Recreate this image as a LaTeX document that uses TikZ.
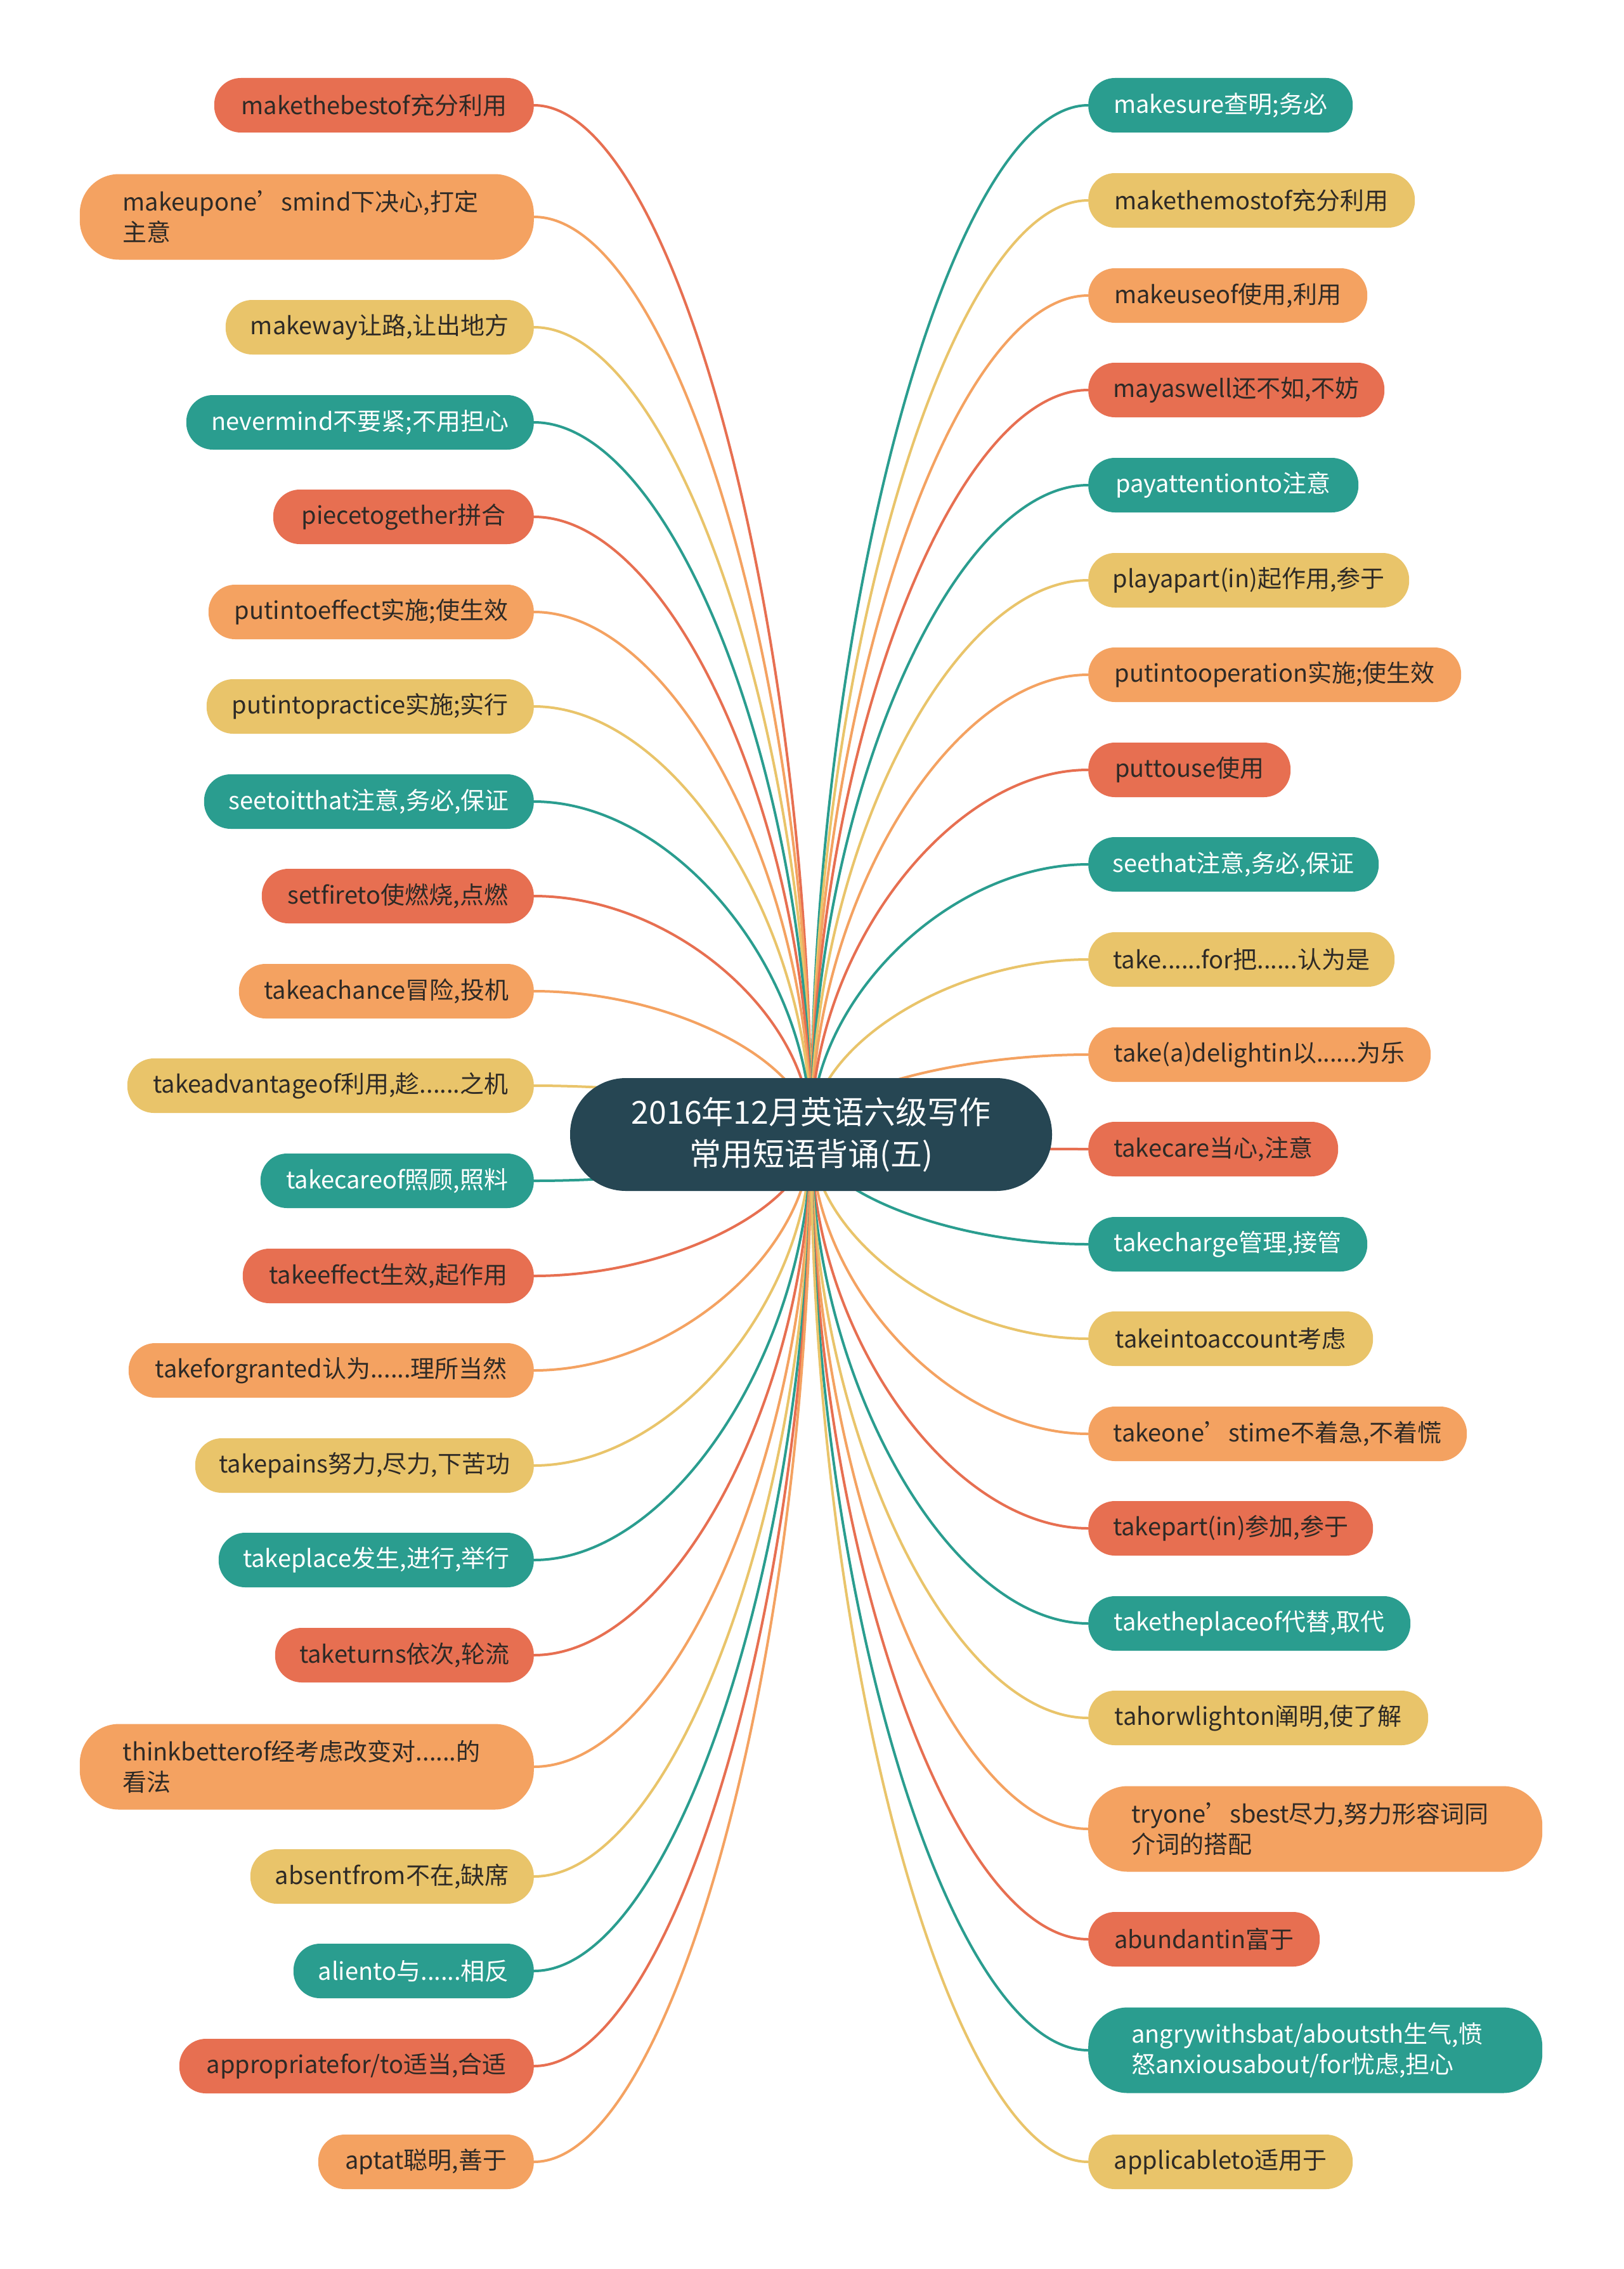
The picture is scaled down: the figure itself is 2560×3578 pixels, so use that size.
\documentclass[tikz,border=0pt]{standalone}
\usepackage{fontspec}
\setmainfont{Noto Sans CJK SC}
\usetikzlibrary{calc,backgrounds}
\definecolor{cRed}{HTML}{E76F51}
\definecolor{cOra}{HTML}{F4A261}
\definecolor{cYel}{HTML}{E9C46A}
\definecolor{cTea}{HTML}{2A9D8F}
\definecolor{cNav}{HTML}{264653}
\definecolor{cTxt}{HTML}{2E2A26}
\tikzset{
  leaf/.style={draw=none, rounded corners=42pt, minimum height=86pt, inner xsep=18pt, inner ysep=0pt,
    font=\fontsize{38}{48}\selectfont, text=cTxt},
  leafL/.style={leaf, anchor=east},
  leafR/.style={leaf, anchor=west},
  two/.style={minimum height=135pt, rounded corners=62pt, text width=580pt, inner xsep=68pt, align=left, minimum width=0pt},
  fR/.style={fill=cRed}, fO/.style={fill=cOra}, fY/.style={fill=cYel}, fT/.style={fill=cTea, text=white},
  root/.style={fill=cNav, text=white, rounded corners=88pt, minimum width=760pt, minimum height=178pt,
    inner sep=0pt, align=center, font=\fontsize{50}{66}\selectfont},
  link/.style={line width=4pt},
}
\begin{document}
\begin{tikzpicture}[x=1pt,y=-1pt]
\useasboundingbox (0,0) rectangle (2560,3578);
\node[root] (c) at (1279,1789) {2016年12月英语六级写作\\常用短语背诵(五)};
% left
\node[leafL,fR,minimum width=504pt] (L1) at (842,166) {makethebestof充分利用};
\node[leafL,fO,two] (L2) at (842,342) {makeupone’smind下决心,打定\\主意};
\node[leafL,fY,minimum width=486pt] (L3) at (842,516) {makeway让路,让出地方};
\node[leafL,fT,minimum width=548pt] (L4) at (842,666) {nevermind不要紧;不用担心};
\node[leafL,fR,minimum width=411pt] (L5) at (842,815) {piecetogether拼合};
\node[leafL,fO,minimum width=513pt] (L6) at (842,965) {putintoeffect实施;使生效};
\node[leafL,fY,minimum width=516pt] (L7) at (842,1114) {putintopractice实施;实行};
\node[leafL,fT,minimum width=520pt] (L8) at (842,1264) {seetoitthat注意,务必,保证};
\node[leafL,fR,minimum width=429pt] (L9) at (842,1413) {setfireto使燃烧,点燃};
\node[leafL,fO,minimum width=465pt] (L10) at (842,1563) {takeachance冒险,投机};
\node[leafL,fY,minimum width=641pt] (L11) at (842,1712) {takeadvantageof利用,趁......之机};
\node[leafL,fT,minimum width=431pt] (L12) at (842,1862) {takecareof照顾,照料};
\node[leafL,fR,minimum width=459pt] (L13) at (842,2012) {takeeffect生效,起作用};
\node[leafL,fO,minimum width=639pt] (L14) at (842,2161) {takeforgranted认为......理所当然};
\node[leafL,fY,minimum width=534pt] (L15) at (842,2311) {takepains努力,尽力,下苦功};
\node[leafL,fT,minimum width=497pt] (L16) at (842,2460) {takeplace发生,进行,举行};
\node[leafL,fR,minimum width=408pt] (L17) at (842,2610) {taketurns依次,轮流};
\node[leafL,fO,two] (L18) at (842,2786) {thinkbetterof经考虑改变对......的\\看法};
\node[leafL,fY,minimum width=447pt] (L19) at (842,2959) {absentfrom不在,缺席};
\node[leafL,fT,minimum width=379pt] (L20) at (842,3108) {aliento与......相反};
\node[leafL,fR,minimum width=559pt] (L21) at (842,3258) {appropriatefor/to适当,合适};
\node[leafL,fO,minimum width=340pt] (L22) at (842,3409) {aptat聪明,善于};
% right
\node[leafR,fT,minimum width=417pt] (R1) at (1716,166) {makesure查明;务必};
\node[leafR,fY,minimum width=515pt] (R2) at (1716,316) {makethemostof充分利用};
\node[leafR,fO,minimum width=440pt] (R3) at (1716,466) {makeuseof使用,利用};
\node[leafR,fR,minimum width=467pt] (R4) at (1716,615) {mayaswell还不如,不妨};
\node[leafR,fT,minimum width=426pt] (R5) at (1716,765) {payattentionto注意};
\node[leafR,fY,minimum width=506pt] (R6) at (1716,915) {playapart(in)起作用,参于};
\node[leafR,fO,minimum width=588pt] (R7) at (1716,1064) {putintooperation实施;使生效};
\node[leafR,fR,minimum width=319pt] (R8) at (1716,1214) {puttouse使用};
\node[leafR,fT,minimum width=458pt] (R9) at (1716,1363) {seethat注意,务必,保证};
\node[leafR,fY,minimum width=483pt] (R10) at (1716,1513) {take......for把......认为是};
\node[leafR,fO,minimum width=540pt] (R11) at (1716,1663) {take(a)delightin以......为乐};
\node[leafR,fR,minimum width=394pt] (R12) at (1716,1812) {takecare当心,注意};
\node[leafR,fT,minimum width=440pt] (R13) at (1716,1962) {takecharge管理,接管};
\node[leafR,fY,minimum width=449pt] (R14) at (1716,2111) {takeintoaccount考虑};
\node[leafR,fO,minimum width=597pt] (R15) at (1716,2261) {takeone’stime不着急,不着慌};
\node[leafR,fR,minimum width=449pt] (R16) at (1716,2410) {takepart(in)参加,参于};
\node[leafR,fT,minimum width=508pt] (R17) at (1716,2560) {taketheplaceof代替,取代};
\node[leafR,fY,minimum width=536pt] (R18) at (1716,2709) {tahorwlighton阐明,使了解};
\node[leafR,fO,two] (R19) at (1716,2884) {tryone’sbest尽力,努力形容词同\\介词的搭配};
\node[leafR,fR,minimum width=365pt] (R20) at (1716,3058) {abundantin富于};
\node[leafR,fT,two] (R21) at (1716,3233) {angrywithsbat/aboutsth生气,愤\\怒anxiousabout/for忧虑,担心};
\node[leafR,fY,minimum width=417pt] (R22) at (1716,3409) {applicableto适用于};
\begin{scope}[on background layer]
\fill[white] (0,0) rectangle (2560,3578);
\foreach \n/\col in {L1/cRed,L2/cOra,L3/cYel,L4/cTea,L5/cRed,L6/cOra,L7/cYel,L8/cTea,L9/cRed,L10/cOra,L11/cYel,
  L12/cTea,L13/cRed,L14/cOra,L15/cYel,L16/cTea,L17/cRed,L18/cOra,L19/cYel,L20/cTea,L21/cRed,L22/cOra}
  \draw[link,\col] (c.center) .. controls ($(c.center |- \n.east)!0.5!(c.center)$)
     and ($(\n.east)!0.5!(c.center |- \n.east)$) .. (\n.east);
\foreach \n/\col in {R1/cTea,R2/cYel,R3/cOra,R4/cRed,R5/cTea,R6/cYel,R7/cOra,R8/cRed,R9/cTea,R10/cYel,R11/cOra,
  R12/cRed,R13/cTea,R14/cYel,R15/cOra,R16/cRed,R17/cTea,R18/cYel,R19/cOra,R20/cRed,R21/cTea,R22/cYel}
  \draw[link,\col] (c.center) .. controls ($(c.center |- \n.west)!0.5!(c.center)$)
     and ($(\n.west)!0.5!(c.center |- \n.west)$) .. (\n.west);
\end{scope}
\end{tikzpicture}
\end{document}
